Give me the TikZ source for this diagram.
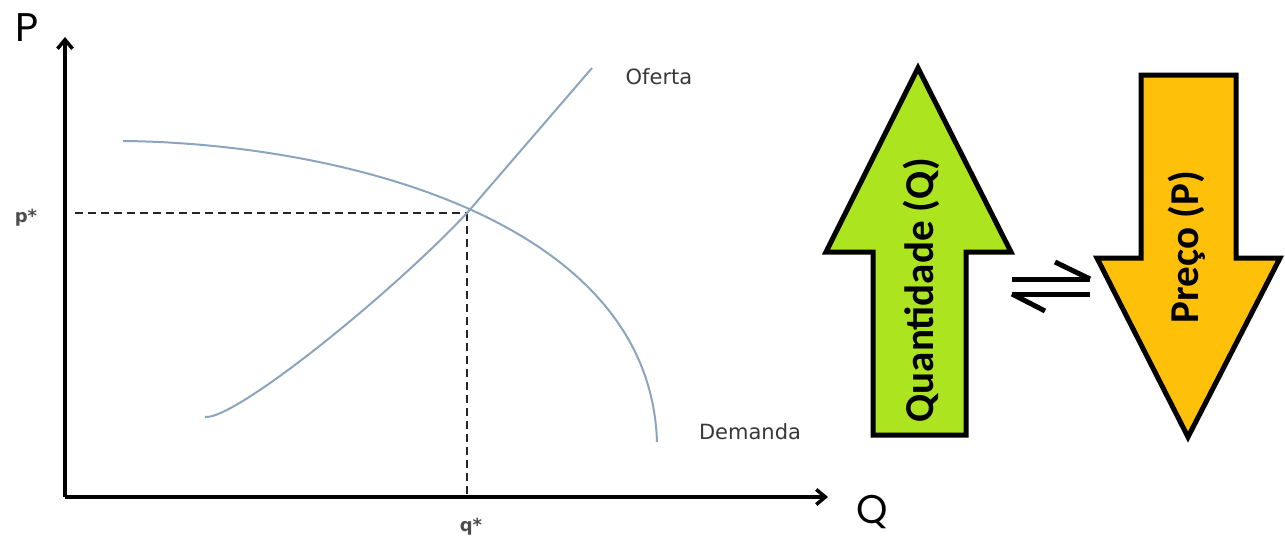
\documentclass[tikz,border=0pt]{standalone}
\usepackage{fontspec}
\setmainfont{DejaVu Sans}
\newfontfamily\axisfont{Poppins}
\newfontfamily\boxfont{Carlito}
\usetikzlibrary{arrows.meta}

\definecolor{curveblue}{RGB}{140,165,190}
\definecolor{qgreen}{RGB}{172,228,32}
\definecolor{pgold}{RGB}{255,192,10}

\tikzset{
  axis/.style={line width=3.5pt, -{Straight Barb[length=9pt,width=15pt,line width=3.5pt]}},
  guide/.style={line width=2.8pt, dash pattern=on 8pt off 5pt, black!85},
  curve/.style={line width=2pt, curveblue},
  bigarrow/.style={line width=5pt, line join=miter},
  harpoon/.style={line width=5pt},
  curvelabel/.style={font=\fontsize{21}{21}\selectfont, black!78},
  starlabel/.style={font=\bfseries\fontsize{18}{18}\selectfont, black!70},
  axislabel/.style={font=\axisfont\fontsize{40}{40}\selectfont},
  arrowtext/.style={font=\boxfont\bfseries\fontsize{41}{41}\selectfont, rotate=90}
}

\begin{document}
\begin{tikzpicture}[x=1pt,y=-1pt]
  \useasboundingbox (0,0) rectangle (1285,538);

  % axes
  \coordinate (origin) at (65,497);
  \coordinate (ptop) at (65,37);
  \coordinate (qend) at (828,497);
  \draw[axis] (origin) -- (ptop);
  \draw[axis] (origin) -- (qend);
  \node[axislabel] (plabel) at (27,28) {P};
  \node[axislabel] (qlabel) at (872,512) {Q};

  % equilibrium
  \coordinate (eq) at (467,213);
  \coordinate (peq) at (75,213);
  \coordinate (qeq) at (467,497);
  \draw[guide] (peq) -- (eq);
  \draw[guide] (eq) -- (qeq);
  \node[starlabel] (pstar) at (26,218) {p*};
  \node[starlabel] (qstar) at (471,527) {q*};

  % supply and demand
  \draw[curve] (205,417) .. controls (235,420) and (390,295) .. (eq) -- (592,68);
  \draw[curve] (123,141) .. controls (330,143) and (650,215) .. (657,442);
  \node[curvelabel] (oferta) at (659,77) {Oferta};
  \node[curvelabel] (demanda) at (750,432) {Demanda};

  % quantity up
  \draw[bigarrow, fill=qgreen] (918,68) -- (1011,252) -- (966,252) -- (966,435)
    -- (873,435) -- (873,252) -- (826,252) -- cycle;
  \node[arrowtext] (qtext) at (921,290) {Quantidade (Q)};

  % price down
  \draw[bigarrow, fill=pgold] (1141,75) -- (1236,75) -- (1236,258) -- (1280,258)
    -- (1188,437) -- (1097,258) -- (1141,258) -- cycle;
  \node[arrowtext] (ptext) at (1187,247) {Preço (P)};

  % harpoons
  \coordinate (hl) at (1012,279);
  \coordinate (hr) at (1090,279);
  \coordinate (hl2) at (1012,294);
  \coordinate (hr2) at (1090,294);
  \coordinate (barb1) at (1055,262);
  \coordinate (barb2) at (1045,311);
  \draw[harpoon] (hl) -- (hr);
  \draw[harpoon] (hr) -- (barb1);
  \draw[harpoon] (hl2) -- (hr2);
  \draw[harpoon] (hl2) -- (barb2);
\end{tikzpicture}
\end{document}
